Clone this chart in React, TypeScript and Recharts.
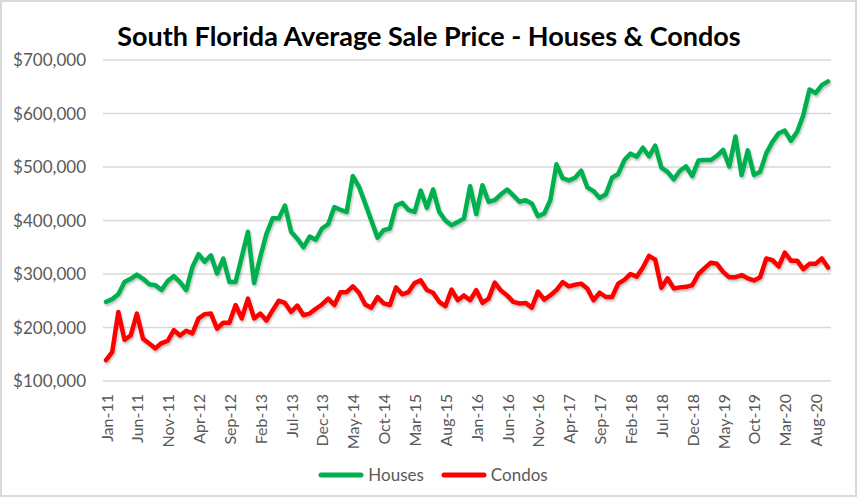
import { LineChart, Line, XAxis, YAxis, CartesianGrid } from 'recharts';

// Monthly average sale price, Jan-11 .. Oct-20, in thousands of dollars
const MONTHS = ['Jan', 'Feb', 'Mar', 'Apr', 'May', 'Jun', 'Jul', 'Aug', 'Sep', 'Oct', 'Nov', 'Dec'];
const FIRST_YEAR = 11;

const HOUSES = [
  248, 253, 262, 285, 291, 299, 291, 281, 279, 270, 287, 296,
  285, 270, 313, 337, 323, 335, 301, 329, 285, 285, 332, 379,
  283, 332, 375, 404, 404, 428, 379, 366, 350, 370, 364, 385,
  393, 425, 420, 416, 483, 463, 432, 400, 368, 382, 385, 428,
  433, 420, 416, 456, 424, 458, 416, 400, 391, 397, 404, 464,
  412, 466, 435, 438, 449, 458, 447, 435, 438, 432, 408, 413,
  438, 505, 479, 475, 480, 493, 462, 455, 442, 449, 480, 487,
  513, 525, 519, 536, 520, 540, 499, 491, 477, 493, 501, 483,
  512, 513, 513, 521, 532, 501, 557, 485, 531, 485, 491, 526,
  547, 563, 568, 549, 566, 597, 645, 638, 653, 660,
];

const CONDOS = [
  139, 154, 229, 177, 185, 226, 179, 170, 161, 171, 175, 195,
  185, 194, 189, 217, 225, 226, 198, 209, 209, 242, 217, 254,
  217, 226, 213, 232, 250, 246, 229, 241, 223, 226, 235, 243,
  254, 242, 266, 266, 277, 265, 243, 237, 257, 245, 242, 275,
  262, 266, 283, 288, 270, 265, 248, 240, 271, 251, 260, 251,
  270, 246, 254, 284, 269, 260, 248, 245, 246, 237, 267, 252,
  260, 270, 285, 277, 280, 282, 273, 251, 265, 257, 257, 282,
  289, 300, 295, 312, 334, 327, 274, 292, 273, 275, 276, 279,
  300, 311, 321, 319, 304, 294, 294, 298, 292, 288, 294, 329,
  326, 314, 340, 325, 325, 309, 319, 319, 329, 312,
];

const Y_TICKS = [100000, 200000, 300000, 400000, 500000, 600000, 700000];

const SERIES = [
  { key: 'houses', name: 'Houses', color: '#00b050' },
  { key: 'condos', name: 'Condos', color: '#ff0000' },
];

const monthLabel = (i: number) =>
  `${MONTHS[i % 12]}-${FIRST_YEAR + Math.floor(i / 12)}`;

const data = HOUSES.map((h, i) => ({
  month: monthLabel(i),
  houses: h * 1000,
  condos: CONDOS[i] * 1000,
}));

const FONT = 'Lato, "Open Sans", sans-serif';
const TEXT = '#595959';

const money = (v: number) => `$${v.toLocaleString('en-US')}`;

function MonthTick({ x, y, payload }: any) {
  return (
    <text
      x={x}
      y={y}
      transform={`rotate(-90, ${x}, ${y})`}
      textAnchor="end"
      dominantBaseline="central"
      fill={TEXT}
      fontSize={16}
      fontFamily={FONT}
    >
      {payload.value}
    </text>
  );
}

export default function App() {
  return (
    <div style={{ position: 'absolute', left: 0, top: 0, width: 858, height: 498, background: '#fff' }}>
      <div
        style={{
          position: 'absolute', left: 0, top: 0, width: 853, height: 493,
          border: '2px solid #d9d9d9',
        }}
      />
      <div
        style={{
          position: 'absolute', left: 0, top: 22, width: 858, textAlign: 'center',
          fontFamily: FONT, fontWeight: 700, fontSize: 27, lineHeight: '27px', color: '#000',
        }}
      >
        South Florida Average Sale Price - Houses &amp; Condos
      </div>

      <LineChart
        width={858}
        height={498}
        data={data}
        margin={{ top: 60, right: 27, bottom: 42, left: 0 }}
        style={{ position: 'absolute', left: 0, top: 0 }}
      >
        <defs>
          <filter id="lineShadow" x="-5%" y="-5%" width="110%" height="120%">
            <feDropShadow dx="1" dy="2" stdDeviation="1.3" floodColor="#000" floodOpacity="0.25" />
          </filter>
        </defs>
        <CartesianGrid vertical={false} stroke="#d9d9d9" strokeWidth={1.5} />
        <XAxis
          dataKey="month"
          interval={4}
          height={75}
          padding={{ left: 3, right: 3 }}
          axisLine={false}
          tickLine={false}
          tickSize={0}
          tickMargin={13}
          tick={<MonthTick />}
        />
        <YAxis
          domain={[100000, 700000]}
          ticks={Y_TICKS}
          width={103}
          axisLine={false}
          tickLine={false}
          tickSize={0}
          tickMargin={17}
          tickFormatter={money}
          tick={{ fill: TEXT, fontSize: 17, fontFamily: FONT }}
        />
        {SERIES.map((s) => (
          <Line
            key={s.key}
            type="linear"
            dataKey={s.key}
            name={s.name}
            stroke={s.color}
            strokeWidth={4.5}
            strokeLinejoin="round"
            strokeLinecap="round"
            filter="url(#lineShadow)"
            dot={false}
            activeDot={false}
            isAnimationActive={false}
          />
        ))}
      </LineChart>

      {/* legend */}
      <div
        style={{
          position: 'absolute', left: 0, top: 464, width: 866, display: 'flex',
          justifyContent: 'center', alignItems: 'center', gap: 17,
          fontFamily: FONT, fontSize: 17, color: TEXT,
        }}
      >
        {SERIES.map((s) => (
          <div key={s.key} style={{ display: 'flex', alignItems: 'center', gap: 4 }}>
            <svg width={46} height={8}>
              <line x1={3} y1={4} x2={43} y2={4} stroke={s.color} strokeWidth={5} strokeLinecap="round" />
            </svg>
            <span>{s.name}</span>
          </div>
        ))}
      </div>
    </div>
  );
}
